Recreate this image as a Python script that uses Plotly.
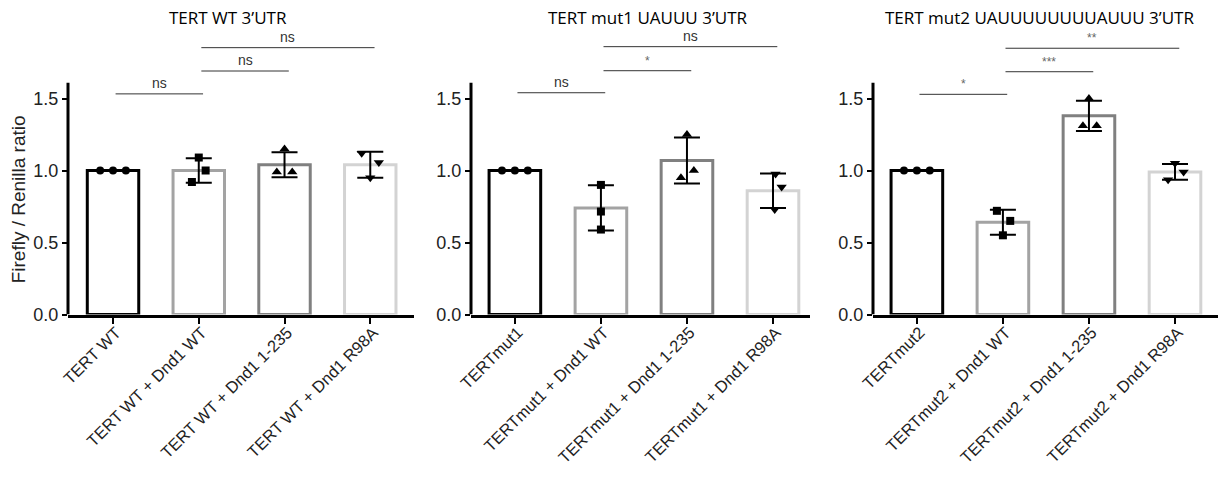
import plotly.graph_objects as go

# ---------------- data ----------------
panel_titles = ["TERT WT 3\u2019UTR", "TERT mut1 UAUUU 3\u2019UTR", "TERT mut2 UAUUUUUUUUAUUU 3\u2019UTR"]

labels_p1 = ["TERT WT", "TERT WT + Dnd1 WT", "TERT WT + Dnd1 1-235", "TERT WT + Dnd1 R98A"]
labels_p2 = ["TERTmut1", "TERTmut1 + Dnd1 WT", "TERTmut1 + Dnd1 1-235", "TERTmut1 + Dnd1 R98A"]
labels_p3 = ["TERTmut2", "TERTmut2 + Dnd1 WT", "TERTmut2 + Dnd1 1-235", "TERTmut2 + Dnd1 R98A"]

means_p1 = [1.00, 1.00, 1.04, 1.04]
means_p2 = [1.00, 0.74, 1.07, 0.86]
means_p3 = [1.00, 0.64, 1.38, 0.99]

sd_p1 = [0.0, 0.085, 0.087, 0.09]
sd_p2 = [0.0, 0.157, 0.16, 0.12]
sd_p3 = [0.0, 0.087, 0.105, 0.055]

points_p1 = [[1.00, 1.00, 1.00], [1.09, 1.00, 0.92], [1.15, 0.99, 0.99], [1.12, 1.055, 0.95]]
points_p2 = [[1.00, 1.00, 1.00], [0.90, 0.715, 0.59], [1.25, 0.95, 1.00], [0.975, 0.885, 0.73]]
points_p3 = [[1.00, 1.00, 1.00], [0.72, 0.65, 0.55], [1.50, 1.31, 1.31], [1.05, 0.99, 0.935]]

# horizontal jitter of replicate points (category units)
jitter_p1 = [[-0.15, 0.0, 0.15], [0.0, 0.08, -0.08], [0.0, -0.09, 0.09], [-0.1, 0.1, 0.0]]
jitter_p2 = [[-0.15, 0.0, 0.15], [0.0, 0.0, 0.0], [0.0, -0.07, 0.08], [0.03, 0.1, 0.02]]
jitter_p3 = [[-0.15, 0.0, 0.15], [-0.07, 0.085, 0.0], [0.0, -0.07, 0.09], [0.0, 0.1, -0.08]]

# significance comparisons: (group a, group b, height, label)
sig_p1 = [(0, 1, 1.532, "ns"), (1, 2, 1.691, "ns"), (1, 3, 1.853, "ns")]
sig_p2 = [(0, 1, 1.540, "ns"), (1, 2, 1.693, "*"), (1, 3, 1.860, "ns")]
sig_p3 = [(0, 1, 1.529, "*"), (1, 2, 1.686, "***"), (1, 3, 1.849, "**")]

y_tick_vals = [0.0, 0.5, 1.0, 1.5]
y_tick_text = ["0.0", "0.5", "1.0", "1.5"]
y_label = "Firefly / Renilla ratio"

# ---------------- style ----------------
bar_colors = ["#000000", "#a3a3a3", "#808080", "#d3d3d3"]
symbols = ["circle", "square", "triangle-up", "triangle-down"]
sym_sizes = [8, 8, 9, 9]
W, H = 1220, 477
x_domains = [[68 / W, 414 / W], [471 / W, 810 / W], [873 / W, 1218 / W]]
x_ranges = [[-0.525, 3.51], [-0.51, 3.43], [-0.51, 3.5]]
y0_px, px_per_unit, y_top = 314.5, 144.0, 1.95
y_domain = [1 - y0_px / H, 1 - (y0_px - y_top * px_per_unit) / H]
axis_top = 1.61
title_x_px = [228, 648, 1039]

panels = [
    (labels_p1, means_p1, sd_p1, points_p1, jitter_p1, sig_p1),
    (labels_p2, means_p2, sd_p2, points_p2, jitter_p2, sig_p2),
    (labels_p3, means_p3, sd_p3, points_p3, jitter_p3, sig_p3),
]

fig = go.Figure()
shapes = []
annotations = []
tick_font = dict(family="Liberation Sans, Arial, sans-serif", size=18, color="#222")
x_font = dict(family="Liberation Sans, Arial, sans-serif", size=16.5, color="#222")

for p, (labels, means, sds, pts, jit, sigs) in enumerate(panels):
    sfx = "" if p == 0 else str(p + 1)
    xa, ya = "x" + sfx, "y" + sfx
    cats = list(range(len(labels)))
    # bars
    fig.add_trace(go.Bar(
        x=cats, y=means, width=0.6, xaxis=xa, yaxis=ya,
        marker=dict(color="white", line=dict(color=bar_colors, width=3)),
        showlegend=False, hoverinfo="skip"))
    # replicate points
    for i in cats:
        fig.add_trace(go.Scatter(
            x=[i + d for d in jit[i]], y=pts[i], mode="markers", xaxis=xa, yaxis=ya,
            marker=dict(symbol=symbols[i], size=sym_sizes[i], color="black", line=dict(width=0)),
            showlegend=False, cliponaxis=False, hoverinfo="skip"))
    # error bars (mean +/- SD)
    eb_x = [i for i in cats if sds[i] > 0]
    fig.add_trace(go.Scatter(
        x=eb_x, y=[means[i] for i in eb_x], mode="markers", xaxis=xa, yaxis=ya,
        marker=dict(size=1, color="rgba(0,0,0,0)"),
        error_y=dict(type="data", array=[sds[i] for i in eb_x], color="black", thickness=2, width=13),
        showlegend=False, hoverinfo="skip"))
    # axes
    fig.update_layout(**{
        ("xaxis" + sfx): dict(
            domain=x_domains[p], range=x_ranges[p], anchor=ya, automargin=False,
            tickmode="array", tickvals=cats, ticktext=labels, tickangle=-45,
            ticklabelstandoff=-7, ticklabelshift=3,
            tickfont=x_font, ticks="outside", ticklen=6, tickwidth=2, tickcolor="black",
            showline=True, linewidth=3, linecolor="black", showgrid=False, zeroline=False,
            fixedrange=True),
        ("yaxis" + sfx): dict(
            domain=y_domain, range=[0, y_top], anchor=xa, automargin=False,
            tickmode="array", tickvals=y_tick_vals, ticktext=y_tick_text,
            tickfont=tick_font, ticks="outside", ticklen=5, tickwidth=2, tickcolor="black",
            showline=False, showgrid=False, zeroline=False, fixedrange=True),
    })
    # y axis line (stops at top of data range like the original)
    shapes.append(dict(type="line", xref=xa + " domain", yref=ya, x0=0, x1=0, y0=0, y1=axis_top,
                       line=dict(color="black", width=3)))
    # significance bars
    for a, b, h, lab in sigs:
        shapes.append(dict(type="line", xref=xa, yref=ya, x0=a + 0.03, x1=b + 0.05, y0=h, y1=h,
                           line=dict(color="#333", width=1)))
        annotations.append(dict(xref=xa, yref=ya, x=(a + b) / 2 + 0.04, y=h, text=lab,
                                showarrow=False, yanchor="bottom", yshift=1,
                                font=dict(family="Liberation Sans, Arial, sans-serif",
                                          size=14 if lab == "ns" else 12,
                                          color="#333" if lab == "ns" else "#666")))
    # panel title
    annotations.append(dict(xref="paper", yref="paper", x=title_x_px[p] / W, y=1 - 18 / H,
                            text=panel_titles[p], showarrow=False, xanchor="center", yanchor="middle",
                            font=dict(family="Open Sans, sans-serif", size=17, color="black")))

# y-axis title
annotations.append(dict(xref="paper", yref="y", x=18 / W, y=0.8, text=y_label, textangle=-90,
                        showarrow=False, xanchor="center", yanchor="middle",
                        font=dict(family="Liberation Sans, Arial, sans-serif", size=19, color="#222")))

fig.update_layout(
    template="none",
    width=W, height=H, margin=dict(l=0, r=0, t=0, b=0, autoexpand=False),
    paper_bgcolor="white", plot_bgcolor="white",
    shapes=shapes, annotations=annotations, barmode="overlay", showlegend=False,
)

fig.write_html("out.html", config={"displayModeBar": False},
               post_script="document.body.style.margin='0';")
